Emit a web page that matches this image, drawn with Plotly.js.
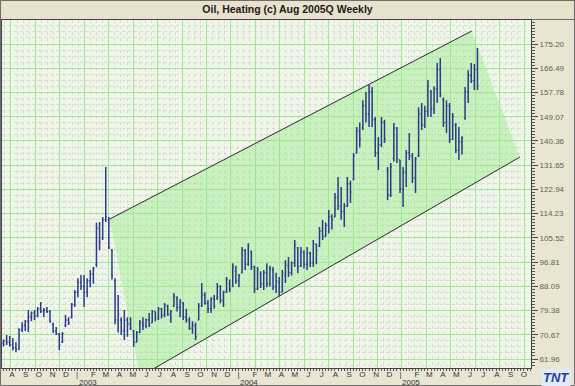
<!DOCTYPE html>
<html>
<head>
<meta charset="utf-8">
<script src="https://cdn.plot.ly/plotly-3.0.1.min.js"></script>
<style>html,body{margin:0;padding:0;background:#EAE5D3;}#chart{width:575px;height:386px;}</style>
</head>
<body>
<div id="chart"></div>
<script>
const chartTitle = 'Oil, Heating (c) Aug 2005Q Weekly';

const weekDates = [
'2002-07-19','2002-07-26','2002-08-02','2002-08-09','2002-08-16','2002-08-23','2002-08-30','2002-09-06','2002-09-13','2002-09-20','2002-09-27','2002-10-04','2002-10-11','2002-10-18','2002-10-25','2002-11-01','2002-11-08','2002-11-15','2002-11-22','2002-11-29','2002-12-06','2002-12-13','2002-12-20','2002-12-27',
'2003-01-03','2003-01-10','2003-01-17','2003-01-24','2003-01-31','2003-02-07','2003-02-14','2003-02-21','2003-02-28','2003-03-07','2003-03-14','2003-03-21','2003-03-28','2003-04-04','2003-04-11','2003-04-18','2003-04-25','2003-05-02','2003-05-09','2003-05-16','2003-05-23','2003-05-30','2003-06-06','2003-06-13','2003-06-20','2003-06-27','2003-07-04','2003-07-11','2003-07-18','2003-07-25','2003-08-01','2003-08-08','2003-08-15','2003-08-22','2003-08-29','2003-09-05','2003-09-12','2003-09-19','2003-09-26','2003-10-03','2003-10-10','2003-10-17','2003-10-24','2003-10-31','2003-11-07','2003-11-14','2003-11-21','2003-11-28','2003-12-05','2003-12-12','2003-12-19','2003-12-26',
'2004-01-02','2004-01-09','2004-01-16','2004-01-23','2004-01-30','2004-02-06','2004-02-13','2004-02-20','2004-02-27','2004-03-05','2004-03-12','2004-03-19','2004-03-26','2004-04-02','2004-04-09','2004-04-16','2004-04-23','2004-04-30','2004-05-07','2004-05-14','2004-05-21','2004-05-28','2004-06-04','2004-06-11','2004-06-18','2004-06-25','2004-07-02','2004-07-09','2004-07-16','2004-07-23','2004-07-30','2004-08-06','2004-08-13','2004-08-20','2004-08-27','2004-09-03','2004-09-10','2004-09-17','2004-09-24','2004-10-01','2004-10-08','2004-10-15','2004-10-22','2004-10-29','2004-11-05','2004-11-12','2004-11-19','2004-11-26','2004-12-03','2004-12-10','2004-12-17','2004-12-24','2004-12-31',
'2005-01-07','2005-01-14','2005-01-21','2005-01-28','2005-02-04','2005-02-11','2005-02-18','2005-02-25','2005-03-04','2005-03-11','2005-03-18','2005-03-25','2005-04-01','2005-04-08','2005-04-15','2005-04-22','2005-04-29','2005-05-06','2005-05-13','2005-05-20','2005-05-27','2005-06-03','2005-06-10','2005-06-17','2005-06-24'];

const openPrices = [
67.5,68.5,68.0,67.0,66.0,65.5,72.5,74.0,75.5,77.0,
78.5,77.5,80.0,79.0,79.5,79.0,74.5,72.0,71.0,68.0,
74.0,76.0,77.0,81.5,86.0,89.5,88.0,86.0,90.0,92.5,
96.0,109.0,105.5,112.0,112.0,101.0,90.0,76.0,76.0,72.0,
76.0,74.5,72.0,68.0,71.5,75.0,74.0,76.0,75.0,79.0,
77.0,80.0,78.0,81.0,78.0,81.0,84.0,80.5,82.0,77.0,
76.0,73.0,74.0,76.0,81.0,85.0,82.0,80.0,83.5,84.0,
88.0,83.0,86.0,89.0,88.0,93.5,90.0,93.0,101.0,96.0,
100.5,95.0,87.0,92.5,89.0,93.0,89.0,94.0,88.0,89.5,
86.0,92.0,95.5,93.0,96.5,102.0,95.5,100.5,96.0,100.0,
96.5,103.0,102.5,108.0,106.0,110.0,113.0,113.0,120.0,117.0,
115.0,117.0,125.0,126.5,136.0,144.0,145.0,153.0,150.0,158.0,
148.0,136.0,139.0,147.0,130.0,121.0,134.0,145.0,133.5,123.0,
129.0,136.0,135.0,127.0,135.0,150.0,146.0,151.0,158.0,152.0,
159.0,166.0,155.0,147.0,153.0,141.0,146.0,137.0,140.0,148.5,
158.0,164.0,162.0,166.0];

const highPrices = [
69.0,70.6,70.2,69.5,68.0,73.0,75.2,76.0,79.6,79.0,
79.6,80.7,82.5,80.3,80.7,79.6,75.0,73.5,71.3,71.7,
77.8,77.0,82.1,86.8,91.0,92.2,92.2,91.0,94.0,95.0,
110.9,111.2,113.0,131.0,113.0,101.5,91.0,85.0,77.0,79.6,
77.0,77.0,72.4,72.0,76.0,77.0,76.5,78.5,79.6,79.0,
80.7,80.3,82.1,81.5,79.6,85.7,84.5,83.5,82.5,80.0,
77.0,75.5,75.0,82.1,89.3,86.0,83.2,84.2,85.0,89.3,
88.5,86.5,91.4,90.5,96.4,95.5,92.5,102.2,101.5,103.6,
101.0,95.5,95.0,93.5,94.0,96.4,95.5,95.0,93.0,91.4,
94.0,97.5,98.6,97.0,104.7,102.2,102.2,101.0,102.2,100.5,
104.7,103.5,109.4,111.9,111.0,115.5,114.0,121.6,127.4,123.8,
118.0,127.4,126.0,136.0,145.4,147.0,155.0,158.0,160.5,159.7,
149.0,141.8,149.0,148.0,131.0,132.4,146.8,145.4,133.5,131.0,
137.1,143.2,136.0,134.6,152.5,154.0,153.0,162.3,158.7,160.0,
168.4,170.2,156.0,155.0,154.0,150.4,146.8,145.4,142.0,159.7,
165.8,168.4,168.0,173.8];

const lowPrices = [
66.5,67.0,66.5,65.0,64.5,65.2,71.7,72.0,71.7,75.5,
76.0,77.0,78.5,77.0,78.5,75.0,71.3,70.6,65.2,67.7,
73.5,74.2,76.5,80.7,84.2,86.8,80.7,84.2,87.8,89.0,
95.0,101.1,104.7,111.2,101.5,90.5,74.5,71.5,70.6,68.8,
70.0,72.4,66.3,68.0,71.3,72.4,73.0,73.5,75.0,75.5,
76.0,76.5,77.0,77.5,75.0,80.7,79.0,77.0,76.0,75.0,
72.4,71.0,68.8,76.0,80.7,81.5,78.5,78.5,80.0,83.2,
82.0,80.7,85.7,86.0,87.8,89.0,87.8,92.9,94.0,95.5,
94.0,85.7,86.8,87.5,86.8,87.8,88.0,86.8,85.7,84.5,
86.0,89.3,91.4,92.0,95.0,92.9,95.0,94.5,94.0,95.0,
95.0,96.0,102.2,104.7,106.0,107.2,108.5,113.0,115.5,112.0,
109.4,116.6,118.0,126.3,136.0,138.0,144.3,147.0,145.4,145.4,
134.6,129.9,138.2,139.6,119.1,120.2,133.0,132.4,121.6,116.6,
123.8,133.5,125.2,121.6,134.6,144.3,145.0,149.0,149.0,150.0,
154.0,156.1,145.4,143.2,139.6,140.7,136.0,133.5,135.5,148.0,
154.0,161.2,158.7,158.7];

const closePrices = [
68.5,68.0,67.0,66.0,65.5,72.5,74.0,75.5,77.0,78.5,
77.5,80.0,79.0,79.5,79.0,75.5,72.0,71.0,67.0,71.0,
76.0,75.0,81.5,86.0,89.5,88.0,86.0,90.0,92.5,94.5,
109.0,104.0,112.0,113.0,102.0,92.0,76.0,78.0,72.0,76.0,
74.5,73.0,68.0,71.5,75.0,74.0,76.0,74.5,79.0,76.5,
80.0,77.5,81.5,78.0,79.0,84.5,80.5,82.5,77.0,76.0,
73.0,74.0,70.0,81.0,85.0,82.0,80.0,83.5,81.0,88.0,
83.0,86.0,90.5,87.0,95.0,90.0,92.0,101.0,96.0,102.5,
95.0,87.0,94.0,89.0,93.0,89.0,94.5,88.0,90.0,86.0,
93.0,96.0,93.0,96.5,103.0,95.0,100.5,96.0,100.0,96.5,
103.5,101.0,108.0,106.0,110.0,113.0,112.0,120.0,117.0,115.0,
117.0,125.0,122.0,135.0,144.0,141.0,153.0,150.0,158.0,148.0,
136.0,139.0,147.0,141.0,121.0,131.0,145.0,134.0,123.0,129.0,
136.0,135.0,127.0,134.0,150.0,146.0,151.0,160.0,152.0,159.0,
166.0,157.0,147.0,153.0,141.0,149.0,137.0,140.0,141.5,158.0,
164.0,162.0,166.0,160.0];

// channel lines
const upperLineDates = ['2003-03-16','2005-06-11'];
const upperLinePrices = [112.29, 179.87];
const lowerLineDates = ['2003-05-23','2005-09-28'];
const lowerLinePrices = [55.6, 134.58];
const shadeDates = ['2003-03-16','2005-06-11','2005-09-28','2003-05-23','2003-03-16'];
const shadePrices = [112.29, 179.87, 134.58, 55.6, 112.29];

const yTickVals = [61.96,70.67,79.38,88.09,96.81,105.52,114.23,122.94,131.65,140.36,149.07,157.78,166.49,175.20];
const yTickText = ['61.96','70.67','79.38','88.09','96.81','105.52','114.23','122.94','131.65','140.36','149.07','157.78','166.49','175.20'];

const monthTickDates = ['2002-08-07','2002-09-07','2002-10-07','2002-11-07','2002-12-07','2003-01-01','2003-02-07','2003-03-07','2003-04-07','2003-05-07','2003-06-07','2003-07-07','2003-08-07','2003-09-07','2003-10-07','2003-11-07','2003-12-07','2004-01-01','2004-02-07','2004-03-07','2004-04-07','2004-05-07','2004-06-07','2004-07-07','2004-08-07','2004-09-07','2004-10-07','2004-11-07','2004-12-07','2005-01-01','2005-02-07','2005-03-07','2005-04-07','2005-05-07','2005-06-07','2005-07-07','2005-08-07','2005-09-07','2005-10-07'];
const monthTickText = ['A','S','O','N','D','|','F','M','A','M','J','J','A','S','O','N','D','|','F','M','A','M','J','J','A','S','O','N','D','|','F','M','A','M','J','J','A','S','O'];

const yearLabels = ['2003','2004','2005'];
const yearLabelDates = ['2003-01-25','2004-01-25','2005-01-25'];

const xRange = ['2002-07-15 12:00','2005-10-23'];
const yRange = [58.73, 183.83];

const DAY = 86400000;
const gridStep = 55.22 * DAY;
const barColor = '#2C3A8A';

const traces = [
  {type:'scatter', mode:'none', x: shadeDates, y: shadePrices, fill:'toself',
   fillcolor:'rgba(150,238,140,0.45)', hoverinfo:'skip', xaxis:'x', yaxis:'y'},
  {type:'scatter', mode:'lines', x: upperLineDates, y: upperLinePrices,
   line:{color:'#2b2b2b', width:1}, hoverinfo:'skip', xaxis:'x', yaxis:'y'},
  {type:'scatter', mode:'lines', x: lowerLineDates, y: lowerLinePrices,
   line:{color:'#2b2b2b', width:1}, hoverinfo:'skip', xaxis:'x', yaxis:'y'},
  {type:'ohlc', x: weekDates, open: openPrices, high: highPrices, low: lowPrices, close: closePrices,
   increasing:{line:{color:barColor, width:1.5}}, decreasing:{line:{color:barColor, width:1.5}},
   tickwidth:0.35, xaxis:'x2', yaxis:'y2', hoverinfo:'skip'}
];

const annotations = yearLabels.map((t, i) => ({
  text: t, x: yearLabelDates[i], xref:'x', y: -0.043, yref:'paper',
  xanchor:'center', yanchor:'middle', showarrow:false,
  font:{family:'Liberation Sans, Arial, sans-serif', size:8, color:'#333333'}
}));
annotations.push({
  text:'<b><i>TNT</i></b>', x:1.047, xref:'paper', y:-0.026, yref:'paper',
  xanchor:'center', yanchor:'middle', showarrow:false,
  font:{family:'Liberation Sans, Arial, sans-serif', size:13, color:'#1F3F9F'},
  bgcolor:'#E2EAF8', borderpad:1
});

const axisFont = {family:'Liberation Sans, Arial, sans-serif', size:8, color:'#333333'};

const layout = {
  width:575, height:386,
  margin:{l:2, r:44, t:20, b:18, pad:0},
  paper_bgcolor:'#EAE5D3',
  plot_bgcolor:'#F0F5EA',
  showlegend:false,
  title:{text:'<b>' + chartTitle + '</b>', x:0.5, xref:'container', xanchor:'center',
         y:0.975, yref:'container', yanchor:'middle',
         font:{family:'Liberation Sans, Arial, sans-serif', size:10.5, color:'#1a1a1a'}},
  xaxis:{type:'date', range:xRange, autorange:false, tickmode:'linear',
         tick0:'2002-08-04 19:00', dtick:gridStep,
         showgrid:true, gridcolor:'#A0E598', gridwidth:1,
         showticklabels:false, ticks:'', zeroline:false,
         showline:true, linecolor:'#444', linewidth:1, mirror:true,
         rangeslider:{visible:false},
         minor:{tick0:'2002-08-04 19:00', dtick:gridStep/4, showgrid:true, gridcolor:'#D6DDD0', griddash:'dot', gridwidth:1, ticks:''}},
  yaxis:{range:yRange, autorange:false, side:'right', tickmode:'array',
         tickvals:yTickVals, ticktext:yTickText,
         showgrid:true, gridcolor:'#A0E598', gridwidth:1, zeroline:false,
         ticks:'outside', ticklen:6, tickcolor:'#444', tickwidth:1,
         tickfont:{family:'Liberation Sans, Arial, sans-serif', size:8, color:'#55654F'},
         showline:true, linecolor:'#444', linewidth:1, mirror:true,
         minor:{tick0:61.96, dtick:2.1775, showgrid:true, gridcolor:'#D6DDD0', griddash:'dot', gridwidth:1, ticks:''}},
  xaxis2:{type:'date', overlaying:'x', anchor:'y2', side:'bottom', range:xRange, autorange:false,
          tickmode:'array', tickvals:monthTickDates, ticktext:monthTickText,
          tickfont:axisFont, ticks:'', showgrid:false, zeroline:false, showline:false,
          rangeslider:{visible:false},
          minor:{tick0:'2002-07-19', dtick:7*DAY, ticks:'outside', ticklen:2, tickcolor:'#555', tickwidth:1, showgrid:false}},
  yaxis2:{overlaying:'y', anchor:'x2', side:'right', range:yRange, autorange:false,
          tickmode:'linear', tick0:61.96, dtick:1.08875, ticks:'outside', ticklen:3,
          tickcolor:'#555', tickwidth:1, showticklabels:false, showgrid:false, zeroline:false, showline:false},
  shapes:[
    {type:'rect', xref:'paper', yref:'paper', x0:-0.0028, x1:1.0822, y0:1.0014, y1:1.0560,
     fillcolor:'#E8E1CB', line:{color:'#6d6d6d', width:1}, layer:'below'},
    {type:'rect', xref:'paper', yref:'paper', x0:-0.0028, x1:1.0822, y0:-0.0503, y1:1.0560,
     fillcolor:'rgba(0,0,0,0)', line:{color:'#6d6d6d', width:1}, layer:'above'}
  ],
  annotations: annotations
};

Plotly.newPlot('chart', traces, layout, {staticPlot:true, displayModeBar:false});
</script>
</body>
</html>
